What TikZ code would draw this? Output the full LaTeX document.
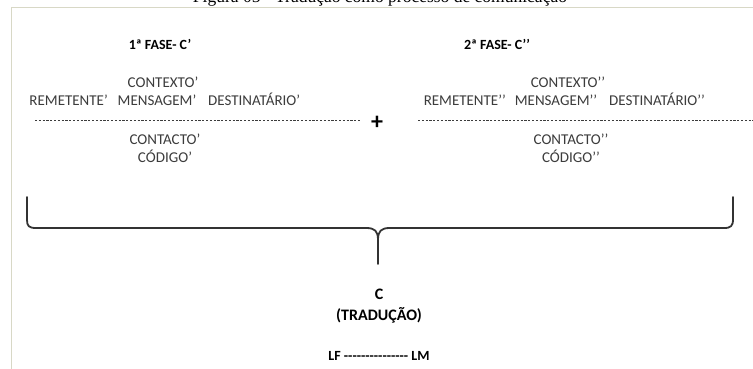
\documentclass[tikz,border=0pt]{standalone}
\usepackage{fontspec}
\setmainfont{Carlito}
\newfontfamily\capfont{Liberation Serif}
\definecolor{txtgray}{HTML}{3C3C3C}
\definecolor{framec}{HTML}{D8D8C6}
\definecolor{bracec}{HTML}{333333}
\newcommand\hy{-\kern0pt}
\begin{document}
\begin{tikzpicture}[x=1pt,y=-1pt,
  lbl/.style={font=\fontsize{15}{18}\selectfont, text=txtgray, inner sep=0pt, anchor=base},
  ttl/.style={font=\fontsize{14}{17}\selectfont\bfseries, text=black, inner sep=0pt, anchor=base},
  dashline/.style={draw=txtgray, line width=0.6pt, dash pattern=on 2.2pt off 1.6pt},
  bracepath/.style={draw=bracec, line width=1.8pt, line cap=round, line join=round}]
\useasboundingbox (0,0) rectangle (753,369);
\clip (0,0) rectangle (753,369);
\fill[white] (0,0) rectangle (753,369);
% caption (cut off at top)
\node[font=\capfont\fontsize{17.5}{20}\selectfont, inner sep=0pt, anchor=base] (cap) at (380,3) {Figura 05 - Tradução como processo de comunicação};
% frame
\draw[framec, line width=1pt] (11,369) -- (11,8) -- (753,8);
% titles
\node[ttl] (t1) at (160,50) {1ª FASE- C’};
\node[ttl] (t2) at (497,50) {2ª FASE- C’’};
% left group
\node[lbl] (ctx1) at (163,88) {CONTEXTO’};
\node[lbl, anchor=base east] (rem1) at (108,106) {REMETENTE’};
\node[lbl] (men1) at (157,106) {MENSAGEM’};
\node[lbl, anchor=base west] (des1) at (208,106) {DESTINATÁRIO’};
\coordinate (d1a) at (35,120);
\coordinate (d1b) at (360,120);
\draw[dashline] (d1a) -- (d1b);
\node[lbl] (con1) at (165,144) {CONTACTO’};
\node[lbl] (cod1) at (165,162) {CÓDIGO’};
% plus
\node[font=\fontsize{24}{26}\selectfont\bfseries, inner sep=0pt] (plus) at (377,123) {+};
% right group
\node[lbl] (ctx2) at (568,88) {CONTEXTO’’};
\node[lbl, anchor=base east] (rem2) at (506,106) {REMETENTE’’};
\node[lbl] (men2) at (556,106) {MENSAGEM’’};
\node[lbl, anchor=base west] (des2) at (609,106) {DESTINATÁRIO’’};
\coordinate (d2a) at (418,120);
\coordinate (d2b) at (753,120);
\draw[dashline] (d2a) -- (d2b);
\node[lbl] (con2) at (571,144) {CONTACTO’’};
\node[lbl] (cod2) at (571,162) {CÓDIGO’’};
% brace
\draw[bracepath] (27,197) -- (27,220) .. controls (27,226) and (29,228) .. (36,228)
  -- (366,228) .. controls (375,228) and (378,231) .. (378,240) -- (378,264);
\draw[bracepath] (378,240) .. controls (378,231) and (381,228) .. (390,228)
  -- (724,228) .. controls (731,228) and (733,226) .. (733,219) -- (733,197);
% result
\node[ttl, font=\fontsize{16}{19}\selectfont\bfseries] (c) at (379,299) {C};
\node[ttl, font=\fontsize{16}{19}\selectfont\bfseries] (trad) at (379,320) {(TRADUÇÃO)};
\node[ttl, font=\fontsize{14}{16}\selectfont\bfseries] (lflm) at (379,360) {LF \hy\hy\hy\hy\hy\hy\hy\hy\hy\hy\hy\hy\hy\hy\hy{} LM};
\end{tikzpicture}
\end{document}
